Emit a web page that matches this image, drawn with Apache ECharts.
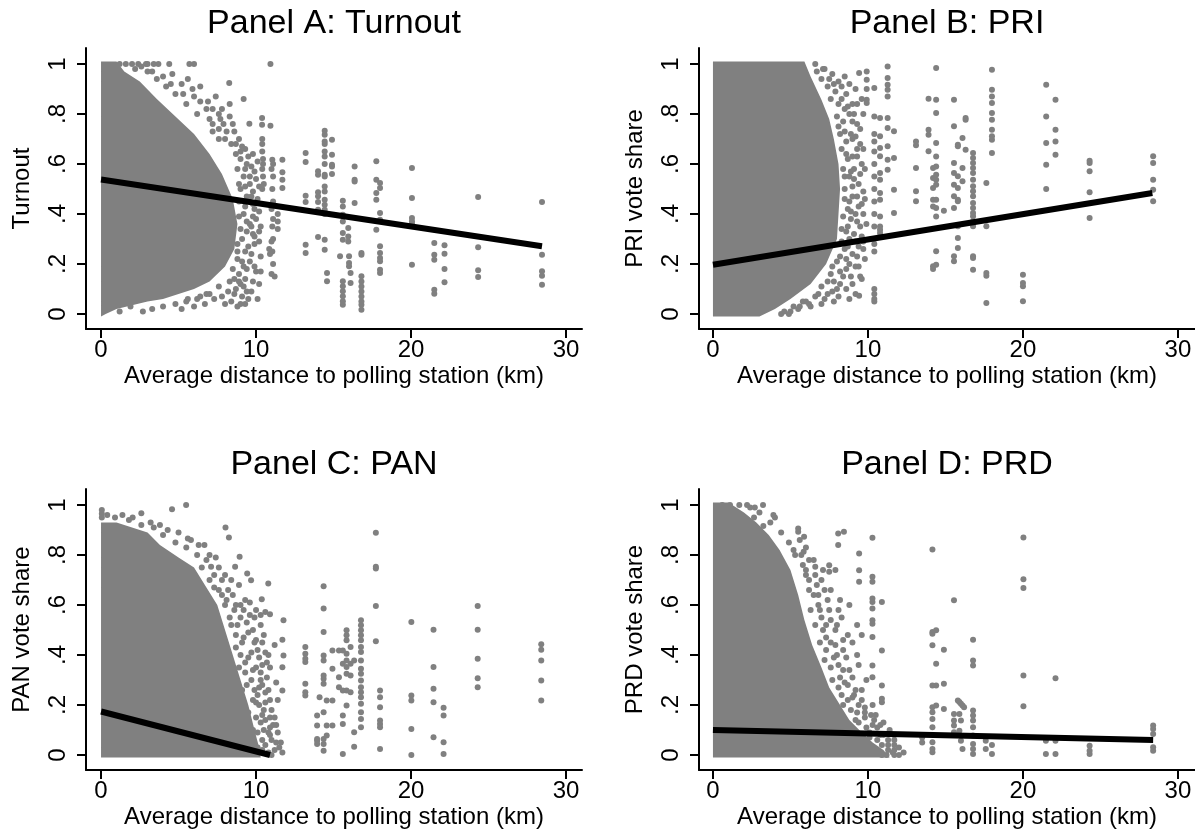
<!DOCTYPE html>
<html>
<head>
<meta charset="utf-8">
<title>Distance to polling station and vote shares</title>
<script src="https://cdn.jsdelivr.net/npm/echarts@6.0.0/dist/echarts.min.js"></script>
<style>
html, body { margin: 0; padding: 0; background: #fff; }
#main { width: 1195px; height: 834px; }
</style>
</head>
<body>
<div id="main"></div>
<script>
// tick positions and labels
var xTicks = [0, 10, 20, 30];
var yTicks = [0, 0.2, 0.4, 0.6, 0.8, 1];
var yTickLabels = ['0', '.2', '.4', '.6', '.8', '1'];

var panelTitles = ['Panel A: Turnout', 'Panel B: PRI', 'Panel C: PAN', 'Panel D: PRD'];
var yNames = ['Turnout', 'PRI vote share', 'PAN vote share', 'PRD vote share'];
var xName = 'Average distance to polling station (km)';

// Panel A: turnout
// outline of the dense part of the cloud (km, share)
var turnoutCloudX = [0, 1.0, 1.5, 2.5, 3.6, 4.8, 6.0, 7.0, 7.8, 8.5, 8.8, 8.6, 8.0, 7.0, 6.0, 5.0, 4.0, 3.0, 2.0, 1.0, 0.3, 0];
var turnoutCloudY = [1.01, 1.01, 0.97, 0.93, 0.86, 0.79, 0.72, 0.64, 0.56, 0.46, 0.36, 0.26, 0.19, 0.13, 0.10, 0.08, 0.06, 0.05, 0.035, 0.02, 0, -0.01];
// single precincts outside the dense part
var turnoutDots = [
  [1.2,1.0],[1.6,1.0],[2.0,1.0],[2.4,1.0],[2.9,1.0],[3.4,1.0],[3.7,1.0],[4.4,1.0],[5.7,1.0],[6.0,1.0],
  [3.0,.97],[3.6,.94],[4.2,.91],[4.8,.88],[5.5,.84],[6.2,.80],[7.0,.78],[7.6,.74],[8.0,.70],[8.4,.68],[7.8,.82],[8.3,.84],
  [8.9,.70],[9.3,.66],[4.6,.96],[5.2,.92],[5.6,.94],[6.4,.91],[6.0,.87],[6.9,.85],[7.4,.87],[7.2,.76],
  [7.6,.80],[7.9,.76],[8.3,.79],[8.6,.73],[8.7,.64],[9.1,.67],[9.4,.60],[9.0,.62],[9.3,.58],[9.6,.55],[9.9,.57],
  [9.0,.50],[9.4,.47],[9.8,.44],[10.1,.46],[9.6,.52],[9.2,.40],[9.6,.36],[10.0,.38],[9.9,.42],[9.1,.30],[9.5,.27],
  [9.9,.31],[10.2,.29],[9.7,.35],[8.8,.22],[9.2,.19],[9.6,.21],[10.0,.17],[9.9,.28],[8.6,.14],[9.0,.12],[9.4,.09],
  [8.2,.09],[7.6,.11],[7.0,.08],[6.4,.07],[5.6,.06],[8.7,.10],[9.2,.11],[7.8,.07],[8.4,.05],[9.0,.04],[9.5,.06],
  [6.8,.08],[6.2,.06],[5.5,.05],[4.8,.04],[4.0,.03],[3.3,.02],[2.7,.01],[1.9,.03],[1.2,.01],[9.4,.18],[8.9,.16],
  [8.7,.68],[9.0,.65],[9.5,.63],[9.8,.64],[10.1,.61],[8.8,.58],[9.2,.55],[9.7,.59],[10.0,.54],[8.9,.52],[9.3,.51],
  [9.8,.49],[10.2,.51],[8.9,.45],[9.3,.43],[9.7,.47],[10.2,.41],[8.9,.39],[9.4,.37],[9.8,.39],[10.3,.35],[9.0,.34],
  [9.4,.33],[9.8,.32],[10.2,.33],[8.8,.28],[9.3,.25],[9.7,.24],[10.3,.23],[8.8,.25],[9.1,.21],[9.9,.19],[10.3,.17],
  [8.5,.18],[8.9,.13],[9.3,.14],[9.8,.13],[10.2,.12],[8.3,.13],[8.6,.08],[9.1,.07],[9.7,.09],[10.1,.06],[7.3,.06],
  [8.0,.04],[8.8,.03],[9.3,.04],[6.7,.04],[6.0,.03],[5.2,.02],[7.2,.73],[7.6,.70],[8.1,.73],[8.5,.76],[6.8,.82],
  [7.2,.82],[7.7,.78],[6.4,.85],[5.9,.90],[5.3,.88],[4.5,.92],[4.0,.95],[3.3,.97],[2.6,.99],[3.0,1.0],[2.2,.98],
  [10.93,1.0],[8.27,.924],[9.2,.86],[10.39,.784],[10.39,.757],[10.93,.753],[9.57,.761],
  [10.4,.70],[10.4,.68],[10.4,.65],[10.45,.62],[10.45,.60],[10.4,.58],[10.45,.55],[10.5,.52],[10.4,.50],
  [11.05,.617],[11.1,.60],[11.0,.58],[11.1,.55],[11.05,.50],[11.1,.45],[11.0,.42],[11.1,.38],[11.05,.35],[11.1,.30],
  [11.0,.29],[11.05,.25],[11.1,.20],[11.0,.16],[11.2,.15],[10.9,.24],[10.85,.26],
  [11.7,.617],[11.7,.567],[11.7,.537],[11.7,.504],[11.4,.40],[11.4,.37],[11.4,.34],
  [13.2,.644],[13.2,.608],[13.2,.473],[13.2,.448],[13.2,.277],[13.2,.244],
  [14.0,.571],[14.0,.557],[14.0,.487],[14.0,.471],[14.0,.448],[14.0,.417],[14.0,.308],
  [14.43,.733],[14.43,.717],[14.43,.69],[14.43,.68],[14.43,.65],[14.43,.63],[14.43,.60],[14.43,.557],[14.43,.55],
  [14.43,.51],[14.43,.49],[14.43,.457],[14.43,.437],[14.43,.417],[14.43,.40],[14.43,.297],[14.43,.257],
  [14.58,.164],[14.58,.131],[14.9,.697],[14.9,.637],[14.9,.597],[14.9,.59],[14.9,.56],[15.42,.231],
  [15.6,.453],[15.6,.43],[15.6,.397],[15.6,.37],[15.6,.324],[15.6,.297],[15.6,.131],[15.6,.111],[15.6,.091],
  [15.6,.071],[15.6,.051],[15.6,.037],
  [15.95,.344],[15.95,.31],[15.95,.29],[16.0,.231],[16.0,.204],[16.0,.191],[16.1,.164],[16.1,.124],
  [16.36,.59],[16.36,.537],[16.36,.53],[16.36,.444],
  [16.8,.244],[16.8,.237],[16.8,.151],[16.8,.13],[16.8,.11],[16.8,.09],[16.8,.07],[16.8,.05],[16.8,.037],[16.8,.017],
  [17.76,.611],[17.76,.537],[17.76,.484],[17.76,.457],[17.76,.337],
  [18.0,.524],[18.0,.504],[18.0,.404],[18.0,.377],[18.0,.271],[18.0,.244],[18.0,.224],[18.0,.211],[18.0,.177],[18.0,.164],
  [20.06,.584],[20.06,.464],[20.06,.384],[20.06,.371],[20.06,.361],[20.06,.197],
  [21.5,.284],[21.5,.237],[21.5,.217],[21.5,.097],[21.5,.081],
  [22.16,.275],[22.16,.241],[22.16,.18],[22.16,.127],
  [24.33,.468],[24.33,.267],[24.33,.175],[24.33,.148],
  [28.45,.448],[28.45,.237],[28.45,.171],[28.45,.153],[28.45,.117]
];
var turnoutFitX = [0, 28.45];
var turnoutFitY = [0.538, 0.271];

// Panel B: PRI
var priCloudX = [0, 5.9, 6.3, 7.0, 7.5, 7.8, 8.1, 8.2, 8.1, 8.0, 7.3, 6.3, 5.0, 4.0, 3.0, 0];
var priCloudY = [1.01, 1.01, 0.95, 0.857, 0.78, 0.70, 0.60, 0.50, 0.40, 0.30, 0.20, 0.12, 0.06, 0.02, -0.01, -0.01];
var priDots = [
  [6.7,.97],[7.0,.94],[7.4,.91],[7.9,.89],[8.3,.86],[8.7,.83],[9.1,.80],[8.1,.75],[8.5,.73],[9.0,.70],[9.3,.66],
  [8.6,.64],[9.1,.58],[8.5,.55],[9.0,.51],[9.3,.47],[8.7,.42],[9.2,.40],[8.6,.33],[9.1,.32],[8.5,.26],[9.0,.24],
  [8.0,.21],[8.6,.18],[7.6,.16],[8.2,.12],[7.0,.11],[7.7,.09],[6.6,.07],[5.8,.05],[5.2,.03],[4.6,.01],[9.6,.86],
  [9.7,.40],[9.6,.31],[9.5,.15],
  [6.6,1.0],[7.2,.98],[7.7,.96],[8.1,.93],[8.5,.95],[8.6,.88],[9.0,.84],[8.8,.80],[9.3,.76],[8.9,.72],[9.5,.68],
  [9.0,.63],[9.6,.60],[8.8,.55],[9.4,.52],[9.0,.47],[9.6,.44],[8.9,.38],[9.5,.35],[8.8,.30],[9.4,.27],[8.6,.22],
  [9.2,.19],[9.8,.22],[7.8,.13],[8.4,.15],[9.0,.12],[7.4,.08],[8.1,.07],[8.8,.06],[6.0,.05],[5.5,.02],[4.9,0],
  [4.4,0],[6.3,.03],[7.0,.04],
  [7.1,.98],[7.5,.94],[7.8,.92],[8.3,.91],[8.8,.92],[9.2,.90],[7.6,.86],[8.1,.84],[8.5,.82],[9.3,.84],[9.7,.80],
  [8.0,.79],[8.4,.77],[9.0,.77],[9.5,.74],[8.2,.72],[8.6,.69],[9.2,.71],[9.7,.66],[8.3,.66],[8.7,.62],[9.3,.63],
  [9.8,.58],[8.4,.58],[8.9,.57],[9.5,.56],[8.5,.50],[9.1,.54],[9.7,.49],[8.5,.46],[8.8,.45],[9.4,.43],[9.8,.46],
  [8.4,.39],[8.9,.41],[9.3,.37],[9.9,.36],[8.3,.34],[8.7,.35],[9.2,.29],[9.7,.29],[8.3,.29],[8.7,.27],[9.3,.23],
  [9.7,.26],[8.2,.23],[8.8,.20],[9.4,.19],[7.7,.19],[8.2,.17],[8.9,.15],[9.6,.14],[7.4,.13],[8.0,.10],[8.6,.10],
  [9.2,.08],[6.8,.08],[7.2,.06],[7.8,.05],[6.2,.04],[5.6,.03],[5.0,.01],
  [9.43,.964],[9.43,.073],
  [9.92,.97],[9.92,.937],[9.92,.90],[9.92,.857],[9.92,.844],
  [10.41,.904],[10.41,.79],[10.41,.72],[10.41,.69],[10.41,.65],[10.41,.60],[10.41,.55],[10.41,.50],[10.41,.45],
  [10.41,.40],[10.41,.35],[10.41,.30],[10.41,.28],[10.41,.25],[10.41,.10],[10.41,.08],[10.41,.06],[10.41,.05],
  [10.78,.784],[10.78,.711],[10.78,.664],[10.78,.631],[10.78,.564],[10.78,.537],[10.78,.484],[10.78,.457],
  [10.78,.39],[10.78,.35],[10.78,.337],[10.78,.324],
  [11.27,.99],[11.27,.944],[11.27,.917],[11.27,.897],[11.27,.87],[11.27,.784],[11.27,.744],[11.27,.671],[11.27,.617],[11.27,.577],
  [11.68,.731],[11.68,.624],[11.68,.497],[11.68,.404],
  [13.1,.69],[13.1,.675],[13.1,.584],[13.1,.491],[13.1,.451],
  [13.91,.861],[13.91,.737],[13.91,.717],[13.91,.651],
  [14.2,.584],[14.2,.544],[14.2,.504],[14.2,.457],[14.2,.43],[14.2,.191],[14.2,.18],
  [14.4,.984],[14.4,.857],[14.4,.804],[14.4,.684],[14.4,.63],[14.4,.59],[14.4,.557],[14.4,.537],[14.4,.517],
  [14.4,.457],[14.4,.424],[14.4,.39],[14.4,.251],[14.4,.197],[14.9,.413],
  [15.55,.857],[15.55,.751],[15.55,.604],[15.55,.564],[15.55,.517],[15.55,.471],[15.55,.424],[15.55,.231],[15.55,.211],
  [15.8,.677],[15.8,.671],[15.8,.551],[15.8,.504],[15.8,.457],[15.8,.451],[15.8,.351],[15.8,.304],[15.8,.264],
  [16.1,.704],[16.1,.584],[16.1,.531],[16.3,.784],[16.3,.777],[16.3,.657],
  [16.78,.644],[16.78,.624],[16.78,.604],[16.78,.584],[16.78,.564],[16.78,.537],[16.78,.511],[16.78,.491],[16.78,.471],
  [16.78,.444],[16.78,.424],[16.78,.404],[16.78,.391],[16.78,.371],[16.78,.351],[16.78,.231],[16.78,.224],[16.78,.177],
  [17.64,.524],[17.64,.351],[17.64,.164],[17.64,.153],[17.64,.044],
  [18.0,.977],[18.0,.897],[18.0,.87],[18.0,.844],[18.0,.804],[18.0,.777],[18.0,.737],[18.0,.711],[18.0,.697],[18.0,.644],
  [20.0,.157],[20.0,.124],[20.0,.111],[20.0,.051],
  [21.5,.917],[21.5,.79],[21.5,.684],[21.5,.597],[21.5,.50],
  [22.1,.857],[22.1,.737],[22.1,.69],[22.1,.637],
  [24.3,.613],[24.3,.604],[24.3,.571],[24.3,.487],[24.3,.384],
  [28.4,.631],[28.4,.604],[28.4,.537],[28.4,.497],[28.4,.451]
];
var priFitX = [0, 28.35];
var priFitY = [0.197, 0.484];

// Panel C: PAN
var panCloudX = [0, 1.0, 2.0, 3.0, 3.8, 5.0, 6.0, 6.8, 7.5, 8.0, 8.5, 9.0, 9.5, 9.9, 10.2, 10.3, 0];
var panCloudY = [0.93, 0.93, 0.91, 0.89, 0.84, 0.79, 0.75, 0.67, 0.60, 0.50, 0.40, 0.30, 0.20, 0.10, 0.03, -0.01, -0.01];
var panDots = [
  [0.05,.98],[0.05,.965],[0.05,.95],[1.38,.96],[2.04,.95],[2.6,.967],[4.58,.983],[5.49,1.0],[5.6,.866],[6.67,.84],
  [8.03,.91],[8.25,.87],[8.94,.793],[8.65,.753],[7.1,.753],[9.43,.726],[9.68,.699],[10.37,.623],[10.79,.686],
  [10.6,.572],[10.9,.563],[11.77,.539],[11.7,.461],[11.77,.398],[11.7,.351],[11.7,.258],
  [2.6,.92],[3.4,.91],[4.0,.88],[4.8,.85],[5.5,.83],[6.2,.80],[6.8,.78],[7.3,.72],[7.8,.70],[8.2,.66],[8.6,.58],
  [9.0,.60],[9.6,.56],[10.3,.52],[9.9,.45],[10.0,.35],[10.3,.30],[10.6,.25],[10.2,.20],[10.6,.14],[10.9,.08],
  [10.4,.06],[11.3,.05],[10.9,.35],[11.4,.22],
  [6.5,.75],[7.0,.70],[7.6,.66],[8.0,.60],[8.5,.64],[8.4,.52],[9.0,.55],[9.3,.62],[8.7,.43],[9.2,.47],[9.8,.50],
  [8.9,.35],[9.5,.39],[10.1,.42],[10.4,.36],[9.1,.26],[9.7,.30],[10.2,.27],[10.7,.31],[9.5,.17],[10.0,.21],
  [10.5,.18],[10.9,.22],[9.8,.10],[10.3,.13],[10.8,.09],[11.2,.15],[10.1,.03],[10.6,.04],[11.0,.06],[11.5,.03],
  [11.7,.01],[10.8,.40],[10.5,.48],[11.2,.44],[11.3,.29],[11.1,.12],
  [8.1,.62],[8.7,.60],[9.2,.58],[9.6,.61],[10.0,.58],[8.3,.55],[8.8,.52],[9.4,.53],[9.9,.55],[10.3,.56],[8.7,.48],
  [9.1,.45],[9.5,.49],[10.0,.46],[10.4,.45],[9.0,.40],[9.3,.37],[9.7,.41],[10.2,.39],[10.6,.41],[9.3,.33],[9.8,.34],
  [10.3,.33],[10.7,.37],[9.4,.28],[9.9,.26],[10.4,.28],[10.8,.26],[9.8,.22],[10.1,.24],[10.6,.21],[11.0,.18],
  [10.0,.15],[10.4,.16],[10.9,.15],[11.3,.12],[10.1,.09],[10.5,.10],[10.9,.11],[11.4,.09],[10.4,.02],[10.8,.01],
  [11.2,.02],[11.6,.05],[11.0,0],[7.3,.67],[7.8,.64],[7.6,.75],[8.0,.72],[8.4,.70],[8.9,.68],[7.0,.80],[7.4,.79],
  [6.3,.84],[5.8,.86],[5.0,.89],[4.3,.90],[3.8,.92],[3.2,.93],[1.8,.94],[0.9,.95],[0.4,.96],
  [13.18,.432],[13.18,.405],[13.18,.385],[13.18,.372],[13.18,.285],[13.18,.251],[13.18,.238],
  [13.94,.158],[13.94,.118],[13.94,.064],[13.94,.057],[13.94,.044],[14.1,.231],
  [14.36,.675],[14.36,.586],[14.36,.492],[14.36,.398],[14.36,.378],[14.36,.318],[14.36,.305],[14.36,.285],
  [14.36,.171],[14.36,.064],[14.36,.044],[14.36,.017],
  [14.56,.218],[14.56,.118],[14.56,.078],[14.93,.418],[14.93,.345],[14.93,.218],[14.93,.118],
  [15.35,.418],[15.35,.311],[15.35,.271],
  [15.6,.004],[15.6,.158],[15.6,.124],[15.6,.418],[15.6,.365],[15.6,.258],
  [15.84,.499],[15.84,.479],[15.84,.459],[15.84,.405],[15.84,.378],[15.84,.352],[15.84,.325],[15.84,.258],[15.84,.198],
  [16.1,.432],[16.1,.365],[16.1,.318],[16.1,.251],[16.33,.378],[16.33,.091],[16.33,.033],
  [16.77,.539],[16.77,.519],[16.77,.499],[16.77,.479],[16.77,.459],[16.77,.432],[16.77,.412],[16.77,.378],[16.77,.345],
  [16.77,.325],[16.77,.298],[16.77,.271],[16.77,.251],[16.77,.231],[16.77,.205],[16.77,.171],[16.77,.144],[16.77,.111],
  [17.73,.889],[17.73,.753],[17.73,.746],[17.73,.596],[17.73,.455],
  [18.0,.258],[18.0,.231],[18.0,.191],[18.0,.138],[18.0,.124],[18.0,.111],[18.0,.024],
  [20.02,.532],[20.02,.238],[20.02,.218],[20.02,.104],[20.02,0],
  [21.45,.501],[21.45,.352],[21.45,.265],[21.45,.211],[21.45,.071],
  [22.1,.189],[22.1,.158],[22.1,.051],[22.1,.004],
  [24.3,.596],[24.3,.501],[24.3,.385],[24.3,.307],[24.3,.271],
  [28.4,.443],[28.4,.421],[28.4,.378],[28.4,.298],[28.4,.218]
];
var panFitX = [0, 10.9];
var panFitY = [0.174, 0];

// Panel D: PRD
var prdCloudX = [0, 1.0, 2.0, 2.8, 3.6, 4.3, 5.0, 5.5, 5.9, 6.4, 7.0, 7.5, 8.2, 8.8, 9.6, 10.3, 11.0, 11.4, 0];
var prdCloudY = [1.01, 1.01, 0.97, 0.93, 0.88, 0.82, 0.74, 0.64, 0.54, 0.44, 0.35, 0.27, 0.20, 0.14, 0.09, 0.05, 0.02, -0.01, -0.01];
var prdDots = [
  [0.6,1.0],[1.1,1.0],[1.7,1.0],[2.2,1.0],[2.7,.99],[3.23,1.0],[3.9,.96],[4.0,.95],[3.25,.916],[2.65,.95],
  [2.4,.99],[3.0,.97],[3.7,.93],[4.4,.89],[4.9,.85],[5.3,.80],[5.8,.76],[6.2,.70],[6.5,.64],[6.9,.58],[7.3,.52],
  [7.6,.45],[8.0,.40],[8.4,.34],[8.7,.28],[9.1,.24],[9.4,.20],[9.8,.15],[10.3,.12],[10.8,.08],[11.3,.04],[11.7,0],
  [10.5,.16],[9.9,.30],[9.3,.40],[8.7,.48],[8.1,.58],[7.6,.66],[7.0,.70],[6.2,.78],[5.6,.86],
  [5.5,.906],[5.5,.893],[5.88,.873],[5.85,.813],[8.08,.886],[8.08,.84],[8.45,.893],[9.43,.806],[9.43,.739],[9.43,.693],
  [10.29,.869],[10.29,.713],[10.29,.693],[10.29,.626],[10.29,.612],[10.29,.586],[10.29,.539],[10.29,.525],[10.29,.472],
  [10.29,.358],[10.29,.311],[10.9,.612],[10.9,.418],[10.9,.278],[10.9,.225],[10.9,.211],
  [6.6,.753],[7.5,.759],[7.5,.733],[7.9,.74],
  [6.0,.72],[6.8,.64],[7.0,.55],[7.4,.62],[7.3,.47],[7.9,.50],[8.3,.55],[7.8,.39],[8.4,.42],[9.0,.45],
  [8.2,.31],[8.8,.34],[9.4,.36],[8.4,.20],[9.0,.23],[9.6,.26],[9.2,.14],[9.8,.17],[10.3,.20],[10.1,.09],
  [10.6,.11],[11.0,.13],[10.9,.04],[11.3,.06],[11.7,.08],[11.2,0],[11.7,.02],[11.7,.04],[13.5,.07],[13.5,.05],
  [8.2,.62],[8.8,.60],[9.3,.52],[9.6,.48],
  [5.2,.82],[5.7,.80],[6.0,.83],[6.5,.78],[6.0,.74],[6.6,.72],[7.1,.74],[6.2,.66],[6.7,.68],[7.2,.66],[6.3,.58],
  [6.8,.60],[7.5,.58],[6.6,.52],[7.1,.50],[7.6,.54],[8.0,.52],[6.9,.45],[7.3,.42],[7.9,.44],[8.4,.46],[7.2,.38],
  [7.6,.35],[8.1,.36],[8.6,.39],[7.7,.30],[8.1,.27],[8.5,.29],[9.0,.31],[8.3,.24],[8.7,.22],[9.2,.26],[9.6,.22],
  [8.9,.18],[9.3,.17],[9.8,.19],[10.2,.16],[9.4,.13],[9.9,.11],[10.4,.14],[10.8,.12],[10.1,.07],[10.6,.06],
  [11.0,.08],[11.4,.10],[11.3,.02],[11.6,.01],[10.9,0],[11.7,.06],[12.0,.03],[12.0,0],[12.3,.01],
  [14.16,.822],[14.16,.492],[14.16,.485],[14.16,.439],[14.16,.278],[14.16,.191],[14.16,.171],[14.16,.144],
  [14.16,.111],[14.16,.051],[14.16,.024],[14.16,.011],
  [14.4,.499],[14.4,.365],[14.4,.278],[14.4,.198],[14.9,.421],[14.9,.285],[14.9,.184],
  [15.55,.619],[15.55,.164],[15.55,.138],[15.55,.118],[15.55,.091],
  [15.8,.218],[15.9,.212],[16.0,.205],[16.1,.198],[16.2,.191],[15.9,.164],[16.0,.138],[15.9,.097],[16.0,.057],[16.1,.024],
  [16.78,.461],[16.78,.378],[16.78,.358],[16.78,.178],[16.78,.158],[16.78,.138],[16.78,.111],[16.78,.078],
  [16.78,.044],[16.78,.024],[16.78,.004],
  [17.6,.057],[17.6,.024],[18.0,.004],[18.0,.04],
  [20.03,.87],[20.03,.703],[20.03,.668],[20.03,.318],[20.03,.195],
  [21.48,.057],[21.48,.004],[22.1,.307],[22.1,.057],[22.1,.004],
  [24.3,.037],[24.3,.017],[24.3,.004],
  [28.4,.118],[28.4,.104],[28.4,.084],[28.4,.031],[28.4,.017]
];
var prdFitX = [0, 28.4];
var prdFitY = [0.10, 0.06];

var FONT = "'Liberation Sans', Arial, sans-serif";
var GREY = '#808080';

// grids: left column / right column, top row / bottom row
var grids = [
  { left: 86, top: 48, width: 496, height: 281 },
  { left: 699, top: 48, width: 496, height: 281 },
  { left: 86, top: 489, width: 496, height: 281 },
  { left: 699, top: 489, width: 496, height: 281 }
];
var xRanges = [[-0.97, 31.03], [-0.9, 31.1], [-0.97, 31.03], [-0.9, 31.1]];
var yRange = [-0.06, 1.064];

var clouds = [[turnoutCloudX, turnoutCloudY], [priCloudX, priCloudY], [panCloudX, panCloudY], [prdCloudX, prdCloudY]];
var dots = [turnoutDots, priDots, panDots, prdDots];
var fits = [[turnoutFitX, turnoutFitY], [priFitX, priFitY], [panFitX, panFitY], [prdFitX, prdFitY]];

function yLabel(v) {
  for (var i = 0; i < yTicks.length; i++) {
    if (Math.abs(yTicks[i] - v) < 1e-9) return yTickLabels[i];
  }
  return '';
}

var myChart = echarts.init(document.getElementById('main'), null, { renderer: 'canvas' });

var titles = [], xAxes = [], yAxes = [], series = [];
for (var p = 0; p < 4; p++) {
  var g = grids[p];
  titles.push({
    text: panelTitles[p],
    left: g.left + g.width / 2,
    top: p < 2 ? 7 : 448,
    textAlign: 'center',
    padding: 0,
    textStyle: { fontSize: 34, fontWeight: 'normal', color: '#000', fontFamily: FONT }
  });
  xAxes.push({
    gridIndex: p,
    type: 'value',
    min: xRanges[p][0],
    max: xRanges[p][1],
    name: xName,
    nameLocation: 'middle',
    nameGap: 35,
    nameTextStyle: { fontSize: 24, color: '#000', fontFamily: FONT },
    axisLine: { show: true, onZero: false, lineStyle: { color: '#000', width: 2 } },
    axisTick: { show: true, length: 9, lineStyle: { color: '#000', width: 2 }, customValues: xTicks },
    axisLabel: { fontSize: 24, color: '#000', fontFamily: FONT, margin: 9, customValues: xTicks },
    splitLine: { show: false }
  });
  yAxes.push({
    gridIndex: p,
    type: 'value',
    min: yRange[0],
    max: yRange[1],
    name: yNames[p],
    nameLocation: 'middle',
    nameGap: 52,
    nameTextStyle: { fontSize: 24, color: '#000', fontFamily: FONT },
    axisLine: { show: true, onZero: false, lineStyle: { color: '#000', width: 2 } },
    axisTick: { show: true, length: 9, lineStyle: { color: '#000', width: 2 }, customValues: yTicks },
    axisLabel: { fontSize: 24, color: '#000', fontFamily: FONT, margin: 16, rotate: 90, customValues: yTicks, formatter: yLabel },
    splitLine: { show: false }
  });

  (function (cx, cy, idx) {
    series.push({
      type: 'custom',
      xAxisIndex: idx,
      yAxisIndex: idx,
      silent: true,
      z: 1,
      data: [[cx[0], cy[0]]],
      renderItem: function (params, api) {
        var pts = [];
        for (var i = 0; i < cx.length; i++) pts.push(api.coord([cx[i], cy[i]]));
        return { type: 'polygon', shape: { points: pts }, style: { fill: GREY } };
      }
    });
  })(clouds[p][0], clouds[p][1], p);

  series.push({
    type: 'scatter',
    xAxisIndex: p,
    yAxisIndex: p,
    silent: true,
    z: 2,
    symbolSize: 6,
    itemStyle: { color: GREY, opacity: 1 },
    data: dots[p]
  });

  var fitData = [];
  for (var k = 0; k < fits[p][0].length; k++) fitData.push([fits[p][0][k], fits[p][1][k]]);
  series.push({
    type: 'line',
    xAxisIndex: p,
    yAxisIndex: p,
    silent: true,
    z: 3,
    symbol: 'none',
    lineStyle: { color: '#000', width: 6 },
    data: fitData
  });
}

option = {
  backgroundColor: '#fff',
  animation: false,
  title: titles,
  grid: grids,
  xAxis: xAxes,
  yAxis: yAxes,
  series: series
};

myChart.setOption(option);
</script>
</body>
</html>
